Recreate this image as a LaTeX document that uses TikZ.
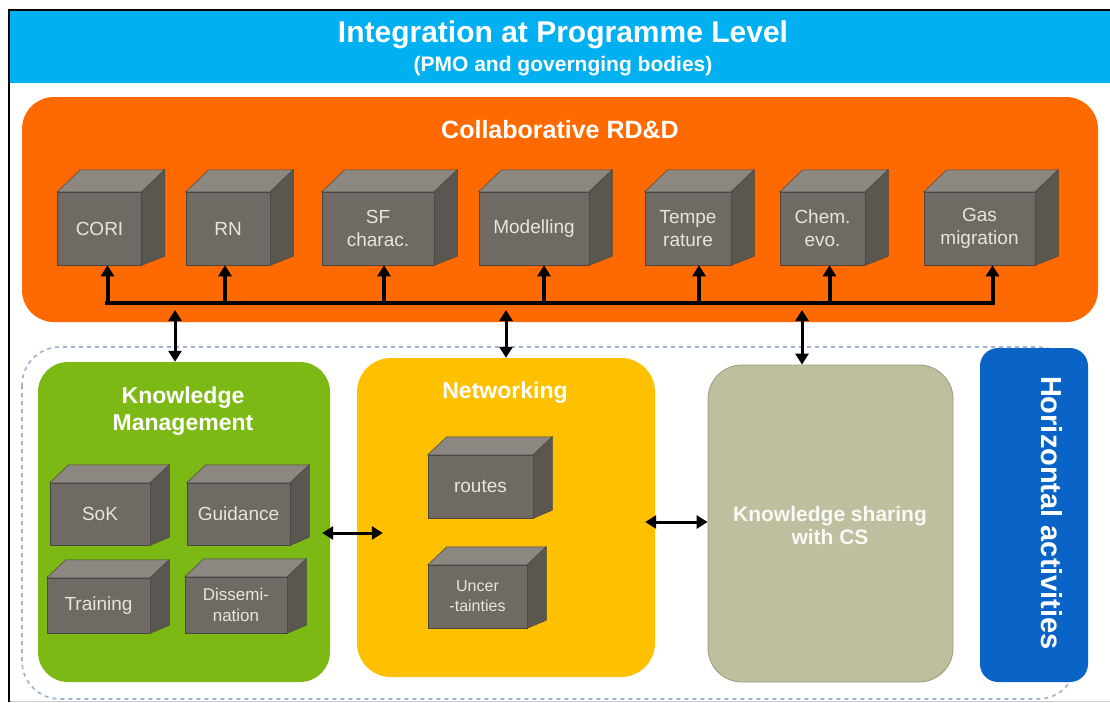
\documentclass[tikz,border=0pt]{standalone}
\usepackage{fontspec}
\setmainfont{Liberation Sans}
\usetikzlibrary{arrows.meta,positioning}
\definecolor{himmel}{HTML}{00B0F0}
\definecolor{rdd}{HTML}{FF6A00}
\definecolor{kmgruen}{HTML}{7DB915}
\definecolor{netzgelb}{HTML}{FFC000}
\definecolor{ksgrau}{HTML}{BFBE9E}
\definecolor{ksrand}{HTML}{9C9A7C}
\definecolor{horblau}{HTML}{0A64C8}
\definecolor{wfront}{HTML}{6F6A63}
\definecolor{wtop}{HTML}{8C8781}
\definecolor{wside}{HTML}{5A5650}
\definecolor{wrand}{HTML}{4A4641}
\definecolor{wtext}{HTML}{E8E5DE}
\definecolor{strich}{HTML}{9DB2CF}
\tikzset{
  panel/.style={rounded corners=30pt,inner sep=0pt},
  wuerfel/.style={fill=wfront,draw=wrand,line width=0.5pt,text=wtext,align=center,inner sep=0pt,
    font=\fontsize{19}{23}\selectfont},
  flaeche/.style={draw=wrand,line width=0.5pt},
  titel/.style={text=white,font=\bfseries\fontsize{23}{27}\selectfont,align=center,inner sep=0pt},
  bus/.style={line width=4.5pt,line cap=rect},
  auf/.style={-{Triangle[length=11pt,width=13pt]},line width=4pt},
  dbl/.style={{Triangle[length=11pt,width=13pt]}-{Triangle[length=11pt,width=13pt]},line width=3pt},
}
\begin{document}
\begin{tikzpicture}[x=1pt,y=-1pt]
  \useasboundingbox (0,0) rectangle (1110,702);
  \fill[white] (0,0) rectangle (1110,702);
  % banner
  \fill[himmel] (10,10.5) rectangle (1110,83);
  \draw[black,line width=2pt] (9,702) -- (9,9.5) -- (1110,9.5);
  \draw[black!20,line width=1pt] (10,701) -- (1110,701);
  \node[titel,font=\bfseries\fontsize{30}{34}\selectfont] (ban1) at (563,35) {Integration at Programme Level};
  \node[titel,font=\bfseries\fontsize{21}{25}\selectfont] (ban2) at (563,66) {(PMO and governging bodies)};
  % collaborative RD&D
  \node[panel,fill=rdd,minimum width=1076pt,minimum height=225pt,rounded corners=32pt] (rdd) at (560,209.5) {};
  \node[titel,font=\bfseries\fontsize{25}{29}\selectfont] (rddt) at (560,130) {Collaborative RD\&D};
  \node[wuerfel,minimum width=84pt,minimum height=73pt]  (cori) at (99.5,228.5) {CORI};
  \node[wuerfel,minimum width=84pt,minimum height=73pt]  (rn)   at (228,228.5) {RN};
  \node[wuerfel,minimum width=112pt,minimum height=73pt] (sf)   at (378,228.5) {SF\\charac.};
  \node[wuerfel,minimum width=110pt,minimum height=73pt] (mod)  at (534,228.5) {Modelling};
  \node[wuerfel,minimum width=86pt,minimum height=73pt]  (temp) at (688,228.5) {Tempe\\rature};
  \node[wuerfel,minimum width=85pt,minimum height=73pt]  (chem) at (822.5,228.5) {Chem.\\evo.};
  \node[wuerfel,minimum width=111pt,minimum height=73pt] (gas)  at (979.5,228.5) {Gas\\migration};
  \foreach \n in {cori,rn,sf,mod,temp,chem,gas}{
    \filldraw[flaeche,fill=wtop] (\n.north west) -- ([shift={(23,-22)}]\n.north west)
      -- ([shift={(23,-22)}]\n.north east) -- (\n.north east) -- cycle;
    \filldraw[flaeche,fill=wside] (\n.north east) -- ([shift={(23,-22)}]\n.north east)
      -- ([shift={(23,-9)}]\n.south east) -- (\n.south east) -- cycle;
  }
  % bus
  \coordinate (busl) at (107.5,303);
  \coordinate (busr) at (993,303);
  \draw[bus] (busl) -- (busr);
  \foreach \n/\s in {cori/8,rn/-3,sf/6,mod/10,temp/11,chem/7,gas/13}{
    \path ([xshift=\s pt]\n.south) coordinate (a\n);
    \draw[auf] (a\n |- busl) -- (a\n);
  }
  % lower part
  \draw[strich,line width=1.6pt,dash pattern=on 4pt off 4pt,rounded corners=38pt] (22,347) rectangle (1076,699);
  \node[panel,fill=kmgruen,minimum width=292pt,minimum height=320pt] (km) at (184,522) {};
  \node[panel,fill=netzgelb,minimum width=298pt,minimum height=319pt,rounded corners=34pt] (net) at (506,517.5) {};
  \node[panel,fill=ksgrau,draw=ksrand,line width=0.8pt,minimum width=245pt,minimum height=317pt,rounded corners=34pt] (ks) at (830.5,523.5) {};
  \node[panel,fill=horblau,minimum width=108pt,minimum height=334pt,rounded corners=18pt] (hor) at (1034,515) {};
  \node[titel] (kmt) at (183,411) {Knowledge\\Management};
  \node[titel] (nett) at (505,393) {Networking};
  \node[titel,font=\bfseries\fontsize{21}{23}\selectfont,text=white!90!ksgrau] (kst) at (830,525) {Knowledge sharing\\with CS};
  \node[titel,rotate=-90,font=\bfseries\fontsize{29}{33}\selectfont] (hort) at (1052,513) {Horizontal activities};
  \node[wuerfel,minimum width=100pt,minimum height=62pt] (sok)   at (100,514) {SoK};
  \node[wuerfel,minimum width=103pt,minimum height=62pt] (guid)  at (238.5,514) {Guidance};
  \node[wuerfel,minimum width=103pt,minimum height=55pt] (train) at (98.5,605.5) {Training};
  \node[wuerfel,minimum width=102pt,minimum height=56pt,font=\fontsize{17}{21}\selectfont] (diss) at (236,605) {Dissemi-\\nation};
  \node[wuerfel,minimum width=105pt,minimum height=63pt] (rout)  at (480.5,486.5) {routes};
  \node[wuerfel,minimum width=99pt,minimum height=63pt,font=\fontsize{16}{20}\selectfont] (unc) at (477.5,596.5) {Uncer\\-tainties};
  \foreach \n in {sok,guid,train,diss,rout,unc}{
    \filldraw[flaeche,fill=wtop] (\n.north west) -- ([shift={(19,-18)}]\n.north west)
      -- ([shift={(19,-18)}]\n.north east) -- (\n.north east) -- cycle;
    \filldraw[flaeche,fill=wside] (\n.north east) -- ([shift={(19,-18)}]\n.north east)
      -- ([shift={(19,-8)}]\n.south east) -- (\n.south east) -- cycle;
  }
  % links
  \coordinate (t1) at (175,310);
  \coordinate (t2) at (506,310);
  \coordinate (t3) at (802,310);
  \draw[dbl] (t1) -- (t1 |- km.north);
  \draw[dbl] (t2) -- (t2 |- net.north);
  \draw[dbl] (t3) -- (t3 |- ks.north);
  \draw[dbl] ([xshift=-8pt,yshift=-11pt]km.east) -- ([xshift=26pt,yshift=-15.5pt]net.west);
  \draw[dbl] ([xshift=-10pt,yshift=-4.5pt]net.east) -- ([yshift=1.5pt]ks.west);
\end{tikzpicture}
\end{document}
